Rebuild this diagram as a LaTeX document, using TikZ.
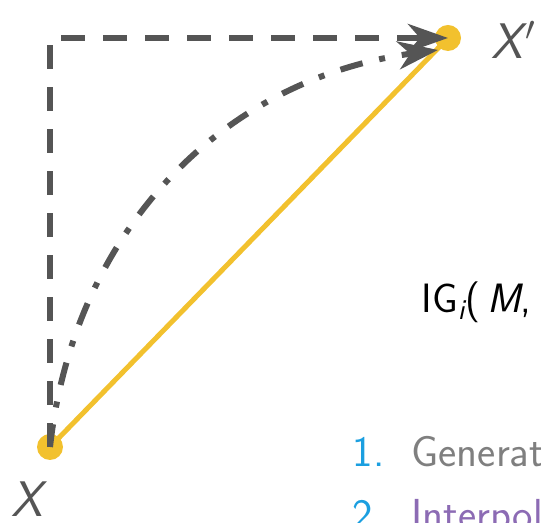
\documentclass[tikz,border=0pt]{standalone}
\usepackage{amsmath}
\usetikzlibrary{arrows.meta,calc}
\definecolor{pathgray}{HTML}{555555}
\definecolor{igyellow}{HTML}{F2C12E}
\definecolor{stepcyan}{HTML}{1B9FE0}
\definecolor{stepgray}{HTML}{7F7F7F}
\definecolor{steppurple}{HTML}{8C6BB4}
\tikzset{
  every picture/.style={line width=0.6pt},
  dot/.style={circle,fill=igyellow,minimum size=13pt,inner sep=0pt},
  route/.style={pathgray,line width=3pt,-{Stealth[length=20pt,width=14pt,inset=6pt]}},
  dashroute/.style={route,dash pattern=on 12pt off 9pt},
  dashdotroute/.style={route,dash pattern=on 11.5pt off 8.5pt on 3pt off 8.5pt},
  straight/.style={igyellow,line width=2.5pt},
  ptlbl/.style={inner sep=0pt,text=pathgray,font=\sffamily\itshape\fontsize{25}{30}\selectfont},
  formula/.style={inner sep=0pt,anchor=base west,font=\sffamily\fontsize{20.5}{24}\selectfont},
  item/.style={inner sep=0pt,anchor=base west,font=\sffamily\fontsize{21.7}{26}\selectfont},
}

\begin{document}
\begin{tikzpicture}[x=0.5pt,y=0.5pt]
\useasboundingbox (0,0) rectangle (541,523);
\clip (0,0) rectangle (541,523);
% end points
\node[dot] (dX) at (50,76) {};
\node[dot] (dXp) at (448,485) {};
\coordinate (Xe) at ($(dXp.center)+(-10,-12)$);
% straight path
\draw[straight] (dX.center) -- (dXp.center);
% other paths
\draw[dashroute] (dX.center) |- (dXp.center);
\draw[dashdotroute] (dX.center) to[bend left=38] (Xe);
% labels
\node[ptlbl] (lX) at (27,24) {X};
\node[ptlbl,anchor=west] (lXp) at (491,483) {X\kern1.5pt$'$};
\node[formula] (ig) at (421,210) {IG$_{\textit{i}}$(\,\textit{M},};
% steps
\node[item,text=stepcyan] (n1) at (352,56) {1.};
\node[item,text=stepgray] (t1) at (411,56) {Generat};
\node[item,text=stepcyan] (n2) at (352,-7) {2.};
\node[item,text=steppurple] (t2) at (411,-7) {Interpol};
\end{tikzpicture}
\end{document}
